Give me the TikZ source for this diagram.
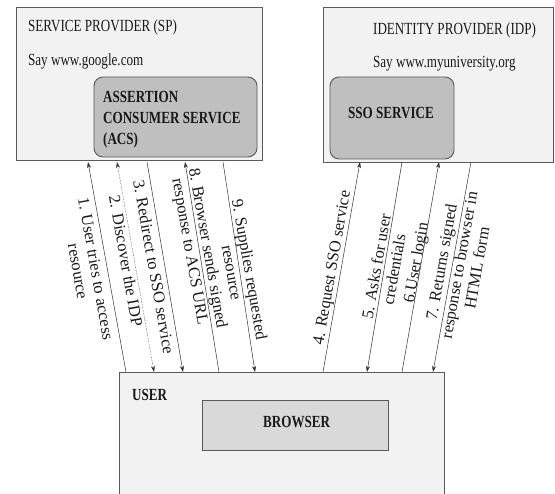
\documentclass[tikz,border=0pt]{standalone}
\usepackage{fontspec}
\setmainfont{Liberation Serif}
\usepackage{tikz}
\usetikzlibrary{arrows.meta}

\definecolor{boxfill}{HTML}{F2F2F2}
\definecolor{svcfill}{HTML}{BFBFBF}
\definecolor{brwfill}{HTML}{D9D9D9}
\definecolor{edgegray}{HTML}{595959}

\begin{document}
\begin{tikzpicture}[
  x=1pt,
  y=1pt,
  >={Stealth[length=6pt,width=4pt]},
  outerbox/.style={fill=boxfill, draw=edgegray, line width=0.9pt},
  svcbox/.style={fill=svcfill, draw=edgegray, line width=0.9pt, rounded corners=9pt},
  txt/.style={font=\fontsize{17}{20}\selectfont, xscale=0.77, inner sep=0pt, text=black!90},
  boldtxt/.style={txt, font=\fontsize{17}{21}\selectfont\bfseries},
  steplabel/.style={font=\fontsize{16.5}{18}\selectfont, inner sep=0pt, align=center, text=black!90},
  flow/.style={draw=black!80, line width=0.5pt}
]
\useasboundingbox (0,0) rectangle (555,494);

% provider boxes
\path[outerbox] (16,334) rectangle (262,487);
\path[svcbox] (94,337) rectangle (257,417);
\path[outerbox] (323,332) rectangle (553,487);
\path[svcbox] (330,335) rectangle (454,417);

% user box, open at the bottom
\path[fill=boxfill] (119,0) rectangle (444,122);
\draw[edgegray, line width=0.9pt] (119,0) -- (119,122) -- (444,122) -- (444,0);
\path[fill=brwfill, draw=edgegray, line width=0.9pt] (202,44) rectangle (388,94);

\node[txt, anchor=base west] (sptitle) at (28,462.5) {SERVICE PROVIDER (SP)};
\node[txt, anchor=base west] (spurl) at (28,428) {Say www.google.com};
\node[boldtxt, anchor=north west, align=left] (acs) at (103,403) {ASSERTION\\CONSUMER SERVICE\\(ACS)};

\node[txt, anchor=base west] (idptitle) at (373,459) {IDENTITY PROVIDER (IDP)};
\node[txt, anchor=base west] (idpurl) at (373,426) {Say www.myuniversity.org};
\node[boldtxt, anchor=base west] (sso) at (348,375) {SSO SERVICE};

\node[boldtxt, anchor=base west] (user) at (132,93) {USER};
\node[boldtxt, anchor=base west] (browser) at (263,66) {BROWSER};

% connector ends on the user box and on the provider boxes
\foreach \k/\xu/\xs in {1/126/88, 2/154/117, 3/183/147, 8/219/185, 9/255/223,
                        4/323/360, 5/367/402, 6/402/439, 7/433/471} {
  \coordinate (u\k) at (\xu,122);
  \coordinate (s\k) at (\xs,332);
}

\foreach \k in {1,8,4,6}
  \draw[flow, ->] (u\k) -- (s\k);
\foreach \k in {3,9,5,7}
  \draw[flow, ->] (s\k) -- (u\k);
\draw[flow, <->, densely dotted] (u2) -- (s2);

\node[steplabel, rotate=-80] (lab1) at (87,224) {1. User tries to access\\resource};
\node[steplabel, rotate=-80] (lab2) at (126,233) {2. Discover the IDP};
\node[steplabel, rotate=-80] (lab3) at (154,227) {3. Redirect to SSO service};
\node[steplabel, rotate=-80] (lab8) at (198,244) {8. Browser sends signed\\response to ACS URL};
\node[steplabel, rotate=-80] (lab9) at (241,223) {9. Supplies requested\\resource};

\node[steplabel, rotate=80] (lab4) at (333,226) {4. Request SSO service};
\node[steplabel, rotate=80] (lab5) at (385,226) {5. Asks for user\\credentials};
\node[steplabel, rotate=80] (lab6) at (417,231) {6.User login};
\node[steplabel, rotate=80] (lab7) at (459,229) {7. Returns signed\\response to browser in\\HTML form};
\end{tikzpicture}
\end{document}
